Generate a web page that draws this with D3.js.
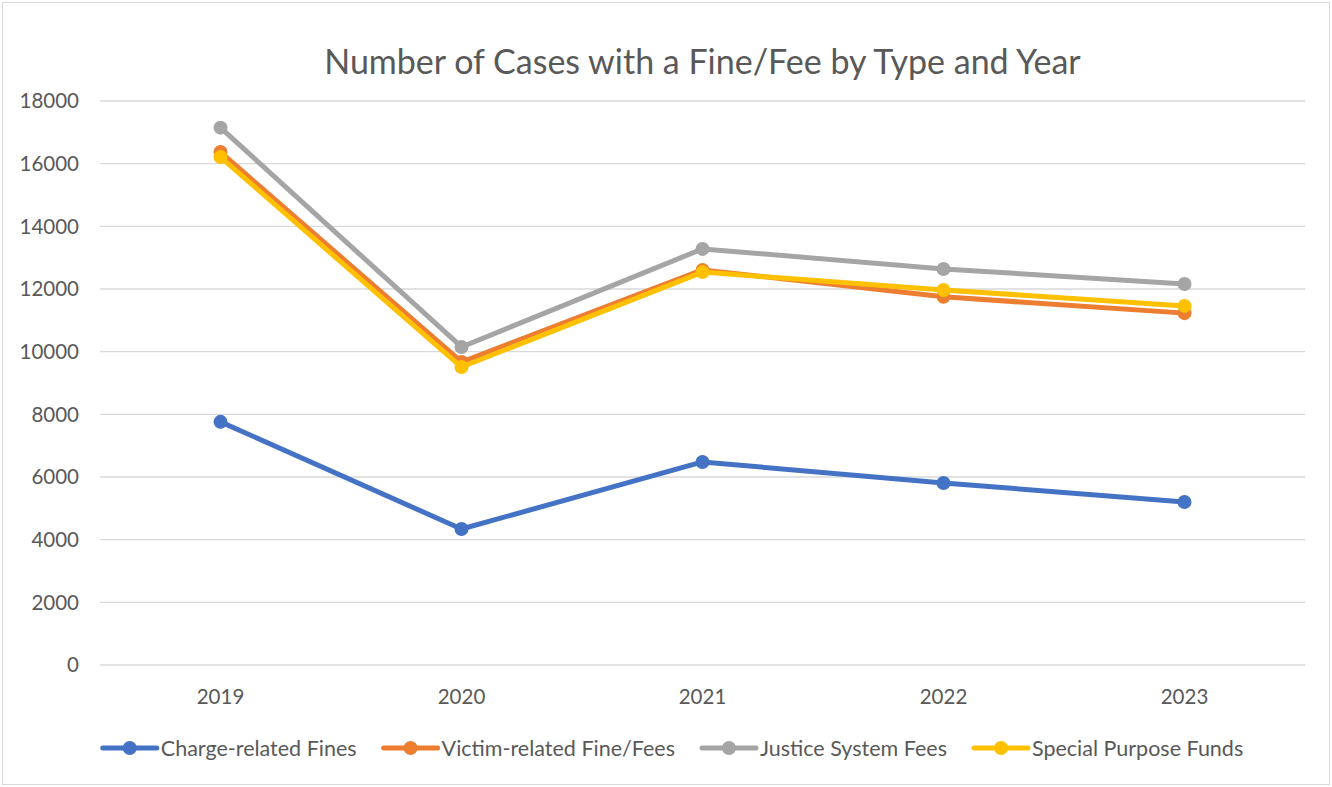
<!DOCTYPE html>
<html>
<head>
<meta charset="utf-8">
<script src="https://cdn.jsdelivr.net/npm/d3@7"></script>
<style>
  body { margin: 0; background: #fff; }
  svg { display: block; font-family: Lato, "Open Sans", sans-serif; }
</style>
</head>
<body>
<svg id="chart"></svg>
<script>
const years = ['2019', '2020', '2021', '2022', '2023'];
const seriesNames = ['Charge-related Fines', 'Victim-related Fine/Fees', 'Justice System Fees', 'Special Purpose Funds'];
const seriesColors = ['#4472C4', '#ED7D31', '#A5A5A5', '#FFC000'];
const chargeFines = [7760, 4340, 6480, 5810, 5200];
const victimFees = [16370, 9670, 12610, 11750, 11230];
const justiceFees = [17150, 10150, 13280, 12640, 12160];
const specialFunds = [16210, 9510, 12540, 11970, 11460];
const yTicks = [0, 2000, 4000, 6000, 8000, 10000, 12000, 14000, 16000, 18000];

const width = 1332;
const height = 787;
const allSeries = [chargeFines, victimFees, justiceFees, specialFunds];

const svg = d3.select('#chart').attr('width', width).attr('height', height);

// chart frame
svg.append('rect')
  .attr('x', 2.5).attr('y', 2.5)
  .attr('width', 1327).attr('height', 782)
  .attr('fill', '#fff')
  .attr('stroke', '#d9d9d9');

const x = d3.scalePoint().domain(years).range([100, 1305]).padding(0.5);
const y = d3.scaleLinear().domain([0, 18000]).range([665, 101]);

// gridlines
svg.append('g')
  .selectAll('line')
  .data(yTicks)
  .enter()
  .append('line')
  .attr('x1', 100).attr('x2', 1305)
  .attr('y1', d => y(d)).attr('y2', d => y(d))
  .attr('stroke', '#d9d9d9')
  .attr('stroke-width', 1.3);

// y labels
svg.append('g')
  .selectAll('text')
  .data(yTicks)
  .enter()
  .append('text')
  .attr('x', 79)
  .attr('y', d => y(d))
  .attr('dy', '0.35em')
  .attr('text-anchor', 'end')
  .attr('fill', '#595959')
  .style('font-size', '20.5px')
  .text(d => d);

// x labels
svg.append('g')
  .selectAll('text')
  .data(years)
  .enter()
  .append('text')
  .attr('x', d => x(d))
  .attr('y', 697)
  .attr('dy', '0.35em')
  .attr('text-anchor', 'middle')
  .attr('fill', '#595959')
  .style('font-size', '20.5px')
  .text(d => d);

// title
svg.append('text')
  .attr('x', 702.5)
  .attr('y', 62)
  .attr('dy', '0.35em')
  .attr('text-anchor', 'middle')
  .attr('fill', '#595959')
  .style('font-size', '34px')
  .text('Number of Cases with a Fine/Fee by Type and Year');

// lines
const line = d3.line()
  .x((d, i) => x(years[i]))
  .y(d => y(d));

allSeries.forEach((vals, s) => {
  const g = svg.append('g');
  g.append('path')
    .datum(vals)
    .attr('d', line)
    .attr('fill', 'none')
    .attr('stroke', seriesColors[s])
    .attr('stroke-width', 5)
    .attr('stroke-linejoin', 'round')
    .attr('stroke-linecap', 'round');
  g.selectAll('circle')
    .data(vals)
    .enter()
    .append('circle')
    .attr('cx', (d, i) => x(years[i]))
    .attr('cy', d => y(d))
    .attr('r', 7)
    .attr('fill', seriesColors[s]);
});

// legend
const legend = svg.append('g');
const items = [];
seriesNames.forEach((name, s) => {
  const item = legend.append('g');
  item.append('line')
    .attr('x1', 2).attr('x2', 56)
    .attr('y1', 0).attr('y2', 0)
    .attr('stroke', seriesColors[s])
    .attr('stroke-width', 5)
    .attr('stroke-linecap', 'round');
  item.append('circle')
    .attr('cx', 29).attr('cy', 0).attr('r', 7)
    .attr('fill', seriesColors[s]);
  const t = item.append('text')
    .attr('x', 60)
    .attr('dy', '0.35em')
    .attr('fill', '#595959')
    .style('font-size', '21.5px')
    .text(name);
  const w = 60 + t.node().getComputedTextLength();
  items.push({ item, w });
});
const gap = 25;
const total = d3.sum(items, d => d.w) + gap * (items.length - 1);
let start = 672 - total / 2;
items.forEach(d => {
  d.item.attr('transform', `translate(${start},748)`);
  start += d.w + gap;
});
</script>
</body>
</html>
